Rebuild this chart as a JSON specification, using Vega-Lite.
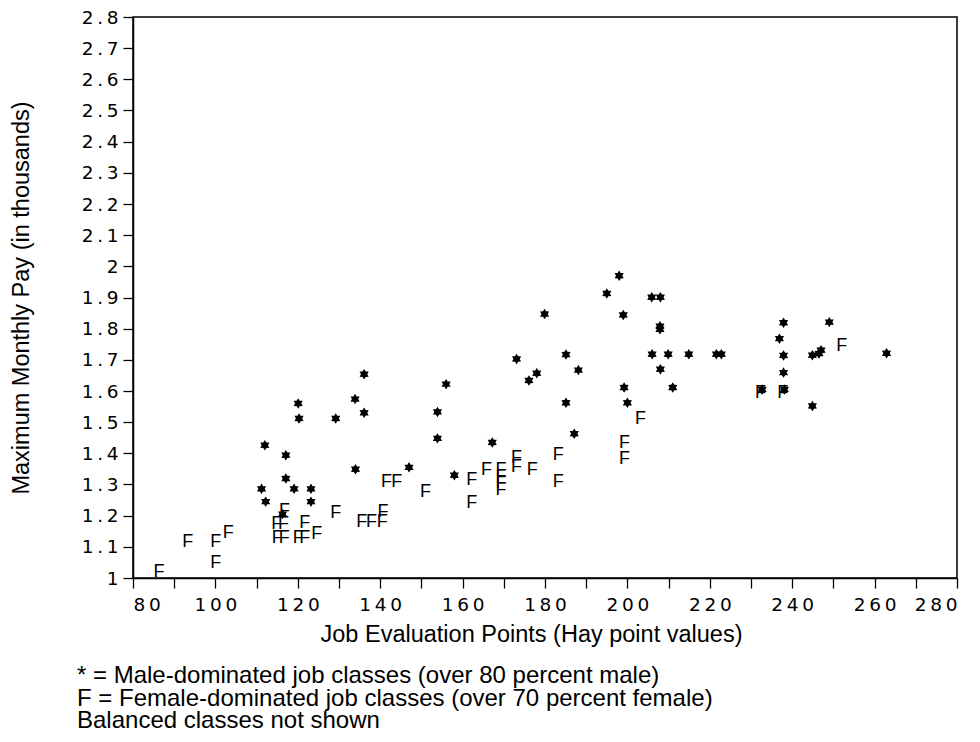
{
  "$schema": "https://vega.github.io/schema/vega-lite/v6.json",
  "width": 824,
  "height": 561,
  "autosize": {"type": "none"},
  "padding": {"left": 133, "top": 17, "right": 23, "bottom": 164},
  "background": "white",
  "config": {
    "view": {"stroke": "black", "strokeWidth": 1.5},
    "axis": {"domainColor": "black", "domainWidth": 1.5, "tickColor": "black", "tickWidth": 1.3, "grid": false, "labelColor": "black", "titleColor": "black", "labelFont": "DejaVu Sans", "labelFontSize": 18.5, "titleFont": "Liberation Sans", "titleFontSize": 23.5, "titleFontWeight": "normal"}
  },
  "title": {
    "text": ["* = Male-dominated job classes (over 80 percent male)", "F = Female-dominated job classes (over 70 percent female)", "Balanced classes not shown"],
    "orient": "bottom",
    "anchor": "start",
    "frame": "group",
    "dx": -56,
    "offset": 18,
    "font": "Liberation Sans",
    "fontSize": 24,
    "fontWeight": "normal",
    "color": "black",
    "lineHeight": 22.5
  },
  "data": {
    "values": [
      {"points": 112.0, "pay": 1.426, "group": "M"},
      {"points": 111.2, "pay": 1.286, "group": "M"},
      {"points": 112.2, "pay": 1.245, "group": "M"},
      {"points": 117.1, "pay": 1.394, "group": "M"},
      {"points": 117.1, "pay": 1.319, "group": "M"},
      {"points": 119.1, "pay": 1.286, "group": "M"},
      {"points": 123.2, "pay": 1.286, "group": "M"},
      {"points": 123.2, "pay": 1.245, "group": "M"},
      {"points": 116.3, "pay": 1.205, "group": "M"},
      {"points": 120.1, "pay": 1.560, "group": "M"},
      {"points": 120.3, "pay": 1.512, "group": "M"},
      {"points": 129.2, "pay": 1.512, "group": "M"},
      {"points": 136.1, "pay": 1.654, "group": "M"},
      {"points": 133.9, "pay": 1.574, "group": "M"},
      {"points": 136.1, "pay": 1.530, "group": "M"},
      {"points": 134.0, "pay": 1.349, "group": "M"},
      {"points": 147.0, "pay": 1.355, "group": "M"},
      {"points": 156.0, "pay": 1.622, "group": "M"},
      {"points": 153.9, "pay": 1.533, "group": "M"},
      {"points": 153.9, "pay": 1.448, "group": "M"},
      {"points": 158.0, "pay": 1.330, "group": "M"},
      {"points": 167.2, "pay": 1.435, "group": "M"},
      {"points": 173.1, "pay": 1.703, "group": "M"},
      {"points": 176.1, "pay": 1.634, "group": "M"},
      {"points": 178.0, "pay": 1.657, "group": "M"},
      {"points": 179.9, "pay": 1.847, "group": "M"},
      {"points": 185.1, "pay": 1.717, "group": "M"},
      {"points": 188.1, "pay": 1.667, "group": "M"},
      {"points": 185.1, "pay": 1.562, "group": "M"},
      {"points": 187.1, "pay": 1.463, "group": "M"},
      {"points": 195.0, "pay": 1.913, "group": "M"},
      {"points": 198.0, "pay": 1.970, "group": "M"},
      {"points": 199.0, "pay": 1.844, "group": "M"},
      {"points": 199.2, "pay": 1.611, "group": "M"},
      {"points": 200.0, "pay": 1.562, "group": "M"},
      {"points": 205.9, "pay": 1.901, "group": "M"},
      {"points": 208.0, "pay": 1.901, "group": "M"},
      {"points": 207.9, "pay": 1.808, "group": "M"},
      {"points": 207.9, "pay": 1.798, "group": "M"},
      {"points": 206.0, "pay": 1.718, "group": "M"},
      {"points": 209.9, "pay": 1.718, "group": "M"},
      {"points": 214.9, "pay": 1.718, "group": "M"},
      {"points": 221.6, "pay": 1.718, "group": "M"},
      {"points": 222.8, "pay": 1.718, "group": "M"},
      {"points": 208.0, "pay": 1.670, "group": "M"},
      {"points": 211.0, "pay": 1.611, "group": "M"},
      {"points": 232.7, "pay": 1.605, "group": "M"},
      {"points": 238.1, "pay": 1.605, "group": "M"},
      {"points": 237.9, "pay": 1.819, "group": "M"},
      {"points": 236.9, "pay": 1.768, "group": "M"},
      {"points": 237.9, "pay": 1.714, "group": "M"},
      {"points": 237.9, "pay": 1.659, "group": "M"},
      {"points": 244.9, "pay": 1.552, "group": "M"},
      {"points": 244.9, "pay": 1.715, "group": "M"},
      {"points": 247.0, "pay": 1.731, "group": "M"},
      {"points": 246.5, "pay": 1.720, "group": "M"},
      {"points": 249.0, "pay": 1.821, "group": "M"},
      {"points": 262.9, "pay": 1.721, "group": "M"},
      {"points": 86.3, "pay": 1.020, "group": "F"},
      {"points": 93.3, "pay": 1.115, "group": "F"},
      {"points": 100.1, "pay": 1.115, "group": "F"},
      {"points": 103.1, "pay": 1.143, "group": "F"},
      {"points": 100.1, "pay": 1.047, "group": "F"},
      {"points": 115.0, "pay": 1.127, "group": "F"},
      {"points": 116.7, "pay": 1.127, "group": "F"},
      {"points": 120.1, "pay": 1.127, "group": "F"},
      {"points": 121.7, "pay": 1.127, "group": "F"},
      {"points": 114.9, "pay": 1.172, "group": "F"},
      {"points": 116.5, "pay": 1.172, "group": "F"},
      {"points": 121.7, "pay": 1.175, "group": "F"},
      {"points": 124.6, "pay": 1.140, "group": "F"},
      {"points": 116.8, "pay": 1.215, "group": "F"},
      {"points": 129.2, "pay": 1.210, "group": "F"},
      {"points": 135.5, "pay": 1.181, "group": "F"},
      {"points": 137.9, "pay": 1.181, "group": "F"},
      {"points": 140.5, "pay": 1.181, "group": "F"},
      {"points": 140.7, "pay": 1.213, "group": "F"},
      {"points": 141.5, "pay": 1.309, "group": "F"},
      {"points": 144.0, "pay": 1.309, "group": "F"},
      {"points": 151.0, "pay": 1.277, "group": "F"},
      {"points": 162.2, "pay": 1.314, "group": "F"},
      {"points": 162.2, "pay": 1.240, "group": "F"},
      {"points": 165.8, "pay": 1.346, "group": "F"},
      {"points": 169.3, "pay": 1.346, "group": "F"},
      {"points": 169.3, "pay": 1.325, "group": "F"},
      {"points": 169.3, "pay": 1.304, "group": "F"},
      {"points": 169.3, "pay": 1.282, "group": "F"},
      {"points": 173.1, "pay": 1.384, "group": "F"},
      {"points": 173.1, "pay": 1.357, "group": "F"},
      {"points": 176.9, "pay": 1.346, "group": "F"},
      {"points": 183.2, "pay": 1.395, "group": "F"},
      {"points": 183.2, "pay": 1.309, "group": "F"},
      {"points": 199.3, "pay": 1.432, "group": "F"},
      {"points": 199.3, "pay": 1.381, "group": "F"},
      {"points": 203.2, "pay": 1.509, "group": "F"},
      {"points": 232.3, "pay": 1.595, "group": "F"},
      {"points": 237.7, "pay": 1.595, "group": "F"},
      {"points": 252.0, "pay": 1.744, "group": "F"}
    ]
  },
  "encoding": {
    "x": {
      "field": "points", "type": "quantitative",
      "scale": {"domain": [80, 280], "nice": false, "zero": false},
      "axis": {
        "title": "Job Evaluation Points (Hay point values)",
        "values": [80, 90, 100, 110, 120, 130, 140, 150, 160, 170, 180, 190, 200, 210, 220, 230, 240, 250, 260, 270, 280],
        "labelExpr": "datum.value % 20 === 0 ? join(split(datum.label, ''), '\u2009') : ''",
        "tickSize": 10,
        "labelPadding": 7,
        "titlePadding": 9,
        "titleX": 398
      }
    },
    "y": {
      "field": "pay", "type": "quantitative",
      "scale": {"domain": [1, 2.8], "nice": false, "zero": false},
      "axis": {
        "title": "Maximum Monthly Pay (in thousands)",
        "values": [1, 1.1, 1.2, 1.3, 1.4, 1.5, 1.6, 1.7, 1.8, 1.9, 2, 2.1, 2.2, 2.3, 2.4, 2.5, 2.6, 2.7, 2.8],
        "format": ".1~f",
        "labelExpr": "join(split(datum.label, ''), '\u2009')",
        "tickSize": 10,
        "labelPadding": 5,
        "titlePadding": 48
      }
    }
  },
  "layer": [
    {
      "transform": [{"filter": "datum.group === 'M'"}],
      "mark": {
        "type": "point",
        "shape": "M0,-1L0.3,-0.52L0.87,-0.5L0.6,0L0.87,0.5L0.3,0.52L0,1L-0.3,0.52L-0.87,0.5L-0.6,0L-0.87,-0.5L-0.3,-0.52Z",
        "filled": true,
        "color": "black",
        "opacity": 1,
        "size": 110
      }
    },
    {
      "transform": [{"filter": "datum.group === 'F'"}],
      "mark": {
        "type": "text",
        "text": "F",
        "font": "Liberation Sans",
        "fontSize": 18,
        "baseline": "middle",
        "align": "center",
        "color": "black"
      }
    }
  ]
}
